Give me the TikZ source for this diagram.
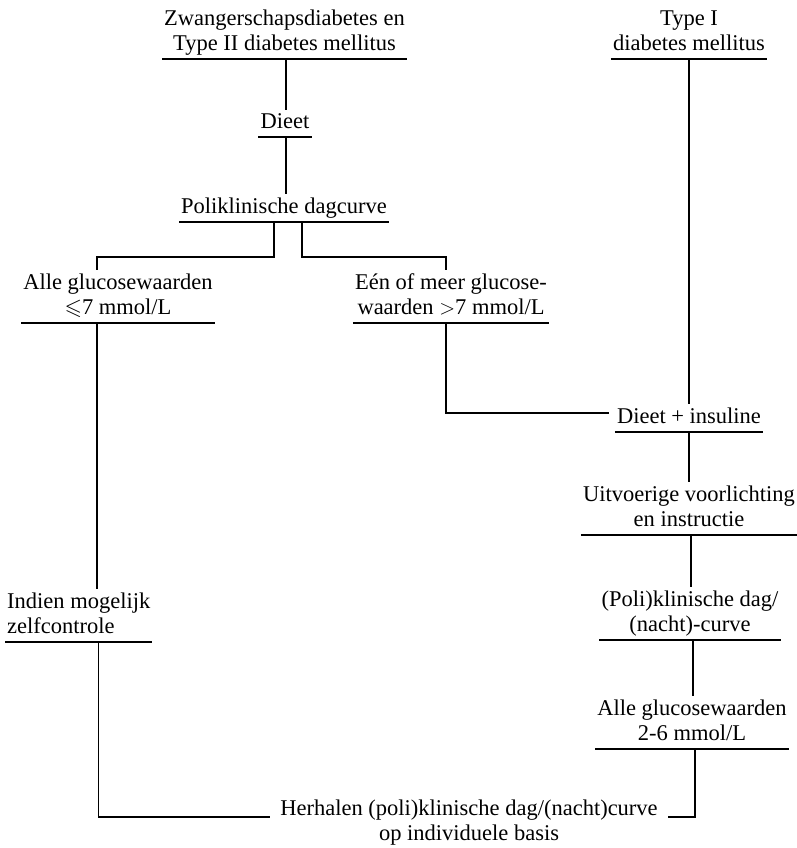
\documentclass[tikz,border=0pt]{standalone}
\usepackage{amssymb}
\usepackage{fontspec}
\setmainfont{Liberation Serif}
\tikzset{
  stage/.style={align=center, inner xsep=2pt, inner ysep=4pt, text depth=4pt, anchor=south},
  link/.style={line width=1.2pt},
}
\begin{document}
\begin{tikzpicture}[x=1pt,y=-1pt,font=\fontsize{22.5}{25}\selectfont]
  \useasboundingbox (0,0) rectangle (797,848);
  % left column
  \node[stage] (zw) at (284.5,59) {Zwangerschapsdiabetes en\\Type II diabetes mellitus};
  \node[stage] (dieet) at (285,137) {Dieet};
  \node[stage] (poli) at (284,222) {Poliklinische dagcurve};
  \node[stage] (alle) at (118,323) {Alle glucosewaarden\\$\leqslant$7 mmol/L};
  \node[stage] (een) at (451,323) {Eén of meer glucose-\\waarden $>$7 mmol/L};
  \node[stage, align=left, anchor=south west] (indien) at (5,642) {Indien mogelijk\\zelfcontrole};
  % right column
  \node[stage] (type1) at (689,59) {Type I\\diabetes mellitus};
  \node[stage] (dins) at (689,432) {Dieet + insuline};
  \node[stage] (uitv) at (689,535) {Uitvoerige voorlichting\\en instructie};
  \node[stage] (pnc) at (690,640) {(Poli)klinische dag/\\(nacht)-curve};
  \node[stage] (alle26) at (692,749) {Alle glucosewaarden\\2-6 mmol/L};
  % bottom
  \node[inner xsep=4pt, anchor=base] (herh) at (469,815) {Herhalen (poli)klinische dag/(nacht)curve};
  \node[inner xsep=4pt, anchor=base] (herhb) at (469,840) {op individuele basis};

  % underlines
  \foreach \n in {zw,dieet,poli,alle,een,indien,type1,dins,uitv,pnc,alle26}
    \draw[link] (\n.south west) -- (\n.south east);

  % connectors
  \draw[link] ([xshift=1.5pt]zw.south) -- ([xshift=1.5pt]zw.south |- dieet.north);
  \draw[link] ([xshift=1pt]dieet.south) -- ([xshift=1pt]dieet.south |- poli.north);
  \draw[link] ([xshift=-10pt]poli.south) -- ++(0,35) -| ([xshift=-21pt]alle.north); % naar links
  \draw[link] ([xshift=18pt]poli.south) -- ++(0,35) -| ([xshift=-5pt]een.north); % naar rechts
  \draw[link] ([xshift=-5pt]een.south) |- ([xshift=-6pt,yshift=5pt]dins.west);
  \draw[link] (type1.south) -- (type1.south |- dins.north);
  \draw[link] (dins.south) -- (dins.south |- uitv.north);
  \draw[link] ([xshift=2pt]uitv.south) -- ([xshift=2pt]uitv.south |- pnc.north);
  \draw[link] ([xshift=3pt]pnc.south) -- ([xshift=3pt]pnc.south |- alle26.north);
  \draw[link] ([xshift=-21pt]alle.south) -- ([xshift=-21pt]alle.south |- indien.north);
  \draw[link] ([xshift=19.5pt]indien.south) |- ([xshift=-6pt,yshift=-2pt]herh.base west);
  \draw[link] ([xshift=3pt]alle26.south) |- ([xshift=6pt,yshift=-2pt]herh.base east);
\end{tikzpicture}
\end{document}
